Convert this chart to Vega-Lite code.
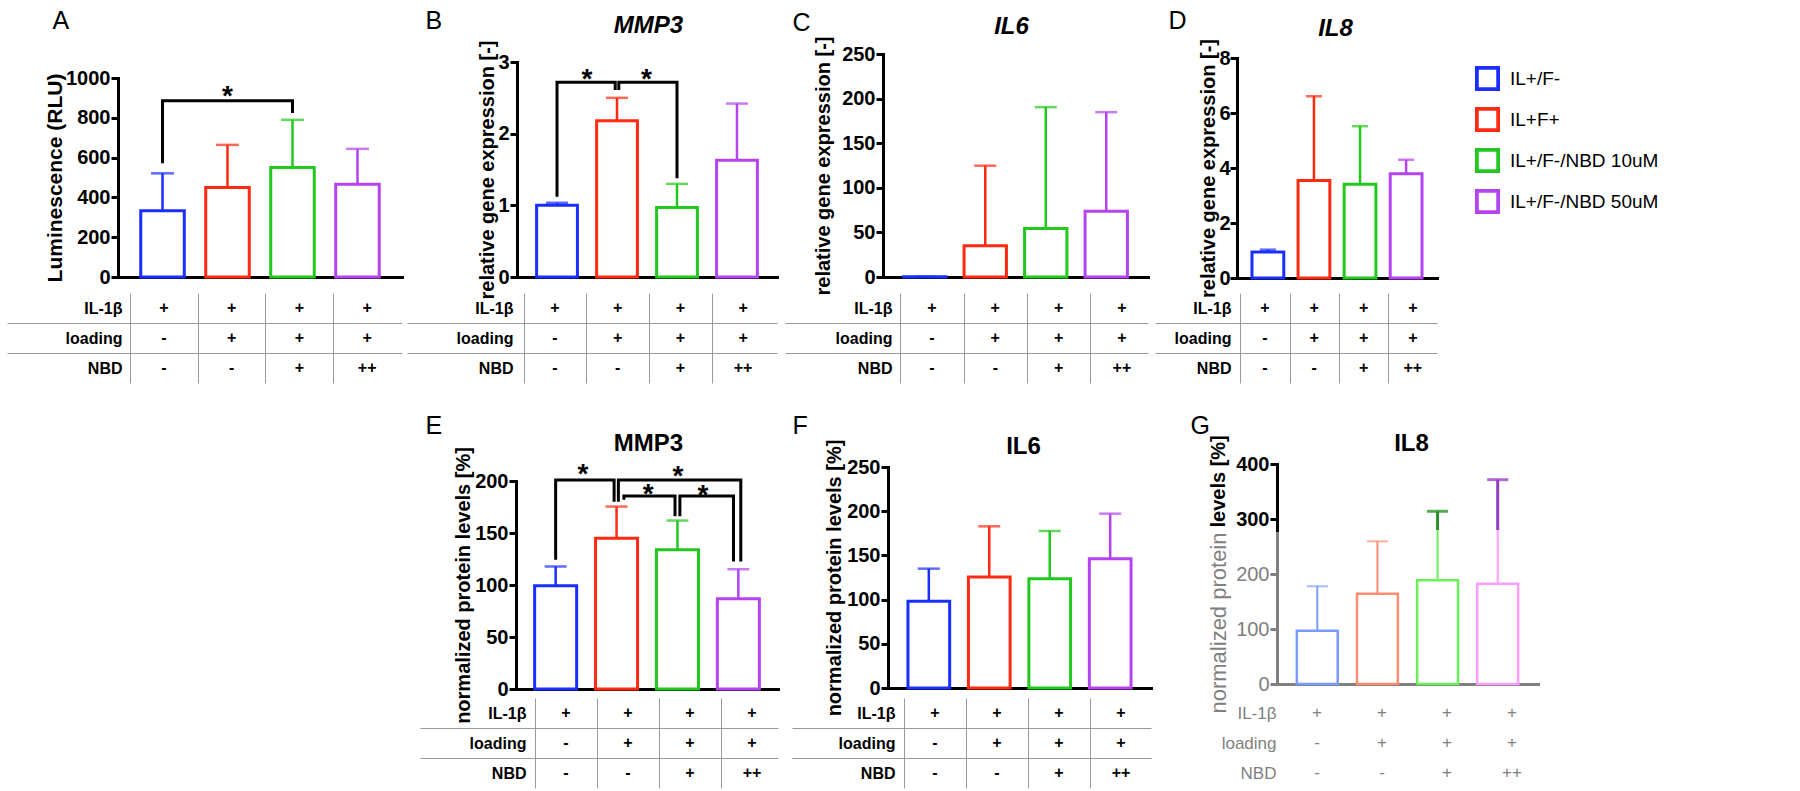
{
"$schema":"https://vega.github.io/schema/vega-lite/v6.json",
"width":1800,"height":791,"autosize":"none","padding":0,"background":"white",
"config":{"view":{"stroke":null},"font":"Liberation Sans",
 "axis":{"domainColor":"black","domainWidth":3,"domainCap":"square","tickColor":"black","tickWidth":3,"tickSize":7,"labelFontSize":20,"labelFontWeight":"bold","labelColor":"black","titleFontSize":20,"titleFontWeight":"bold","titleColor":"black","grid":false,"zindex":1}},
"datasets":{
 "bars":[
  {"p":"A","cond":"IL+/F-","v":333,"e":521},{"p":"A","cond":"IL+F+","v":450,"e":664},{"p":"A","cond":"IL+/F-/NBD 10uM","v":550,"e":790},{"p":"A","cond":"IL+/F-/NBD 50uM","v":466,"e":644},
  {"p":"B","cond":"IL+/F-","v":1.0,"e":1.036},{"p":"B","cond":"IL+F+","v":2.18,"e":2.5},{"p":"B","cond":"IL+/F-/NBD 10uM","v":0.97,"e":1.3},{"p":"B","cond":"IL+/F-/NBD 50uM","v":1.63,"e":2.42},
  {"p":"C","cond":"IL+/F-","v":0.2,"e":0.3},{"p":"C","cond":"IL+F+","v":34.9,"e":124.8},{"p":"C","cond":"IL+/F-/NBD 10uM","v":54.3,"e":190.4},{"p":"C","cond":"IL+/F-/NBD 50uM","v":73.8,"e":184.8},
  {"p":"D","cond":"IL+/F-","v":0.95,"e":1.03},{"p":"D","cond":"IL+F+","v":3.55,"e":6.61},{"p":"D","cond":"IL+/F-/NBD 10uM","v":3.41,"e":5.52},{"p":"D","cond":"IL+/F-/NBD 50uM","v":3.79,"e":4.3},
  {"p":"E","cond":"IL+/F-","v":99.2,"e":117.8},{"p":"E","cond":"IL+F+","v":145,"e":175.4},{"p":"E","cond":"IL+/F-/NBD 10uM","v":133.8,"e":162},{"p":"E","cond":"IL+/F-/NBD 50uM","v":86.7,"e":115.2},
  {"p":"F","cond":"IL+/F-","v":98,"e":135},{"p":"F","cond":"IL+F+","v":125.6,"e":182.9},{"p":"F","cond":"IL+/F-/NBD 10uM","v":123.7,"e":177.6},{"p":"F","cond":"IL+/F-/NBD 50uM","v":146.3,"e":197.2},
  {"p":"G","cond":"IL+/F-","v":97,"e":177.6},{"p":"G","cond":"IL+F+","v":164,"e":259.4},{"p":"G","cond":"IL+/F-/NBD 10uM","v":188.5,"e":314},{"p":"G","cond":"IL+/F-/NBD 50uM","v":182.4,"e":371.5}
 ],
 "table":[
  {"row":"IL-1β","cond":"IL+/F-","m":"+"},{"row":"IL-1β","cond":"IL+F+","m":"+"},{"row":"IL-1β","cond":"IL+/F-/NBD 10uM","m":"+"},{"row":"IL-1β","cond":"IL+/F-/NBD 50uM","m":"+"},
  {"row":"loading","cond":"IL+/F-","m":"-"},{"row":"loading","cond":"IL+F+","m":"+"},{"row":"loading","cond":"IL+/F-/NBD 10uM","m":"+"},{"row":"loading","cond":"IL+/F-/NBD 50uM","m":"+"},
  {"row":"NBD","cond":"IL+/F-","m":"-"},{"row":"NBD","cond":"IL+F+","m":"-"},{"row":"NBD","cond":"IL+/F-/NBD 10uM","m":"+"},{"row":"NBD","cond":"IL+/F-/NBD 50uM","m":"++"}
 ],
 "brk":[
  {"p":"A","b":1,"k":1,"pos":0,"y":571},{"p":"A","b":1,"k":2,"pos":0,"y":886},{"p":"A","b":1,"k":3,"pos":2,"y":886},{"p":"A","b":1,"k":4,"pos":2,"y":824},
  {"p":"B","b":1,"k":1,"pos":0,"y":1.12},{"p":"B","b":1,"k":2,"pos":0,"y":2.716},{"p":"B","b":1,"k":3,"pos":0.97,"y":2.716},{"p":"B","b":1,"k":4,"pos":0.97,"y":2.61},
  {"p":"B","b":2,"k":1,"pos":1.03,"y":2.61},{"p":"B","b":2,"k":2,"pos":1.03,"y":2.716},{"p":"B","b":2,"k":3,"pos":2,"y":2.716},{"p":"B","b":2,"k":4,"pos":2,"y":1.377},
  {"p":"E","b":1,"k":1,"pos":0,"y":124.2},{"p":"E","b":1,"k":2,"pos":0,"y":201},{"p":"E","b":1,"k":3,"pos":0.96,"y":201},{"p":"E","b":1,"k":4,"pos":0.96,"y":180},
  {"p":"E","b":2,"k":1,"pos":1.03,"y":180},{"p":"E","b":2,"k":2,"pos":1.03,"y":201},{"p":"E","b":2,"k":3,"pos":3.04,"y":201},{"p":"E","b":2,"k":4,"pos":3.04,"y":122.6},
  {"p":"E","b":3,"k":1,"pos":1.12,"y":182},{"p":"E","b":3,"k":2,"pos":1.12,"y":185.6},{"p":"E","b":3,"k":3,"pos":1.96,"y":185.6},{"p":"E","b":3,"k":4,"pos":1.96,"y":166},
  {"p":"E","b":4,"k":1,"pos":2.04,"y":166},{"p":"E","b":4,"k":2,"pos":2.04,"y":185.6},{"p":"E","b":4,"k":3,"pos":2.92,"y":185.6},{"p":"E","b":4,"k":4,"pos":2.92,"y":122.6}
 ],
 "stars":[
  {"p":"A","pos":1.0,"y":945},
  {"p":"B","pos":0.5,"y":2.865},{"p":"B","pos":1.49,"y":2.865},
  {"p":"E","pos":0.45,"y":213.8},{"p":"E","pos":2.01,"y":212},{"p":"E","pos":1.52,"y":194.6},{"p":"E","pos":2.42,"y":193}
 ],
 "gdark":[
  {"p":"G","cond":"IL+/F-/NBD 10uM","lo":280,"hi":314},{"p":"G","cond":"IL+/F-/NBD 50uM","lo":280,"hi":371.5}
 ]
},
"layer":[
 {"layer":[
  {"data":{"name":"bars"},"transform":[{"filter":"datum.p === 'A'"}],
   "encoding":{"x":{"field":"cond","type":"nominal","scale":{"domain":["IL+/F-","IL+F+","IL+/F-/NBD 10uM","IL+/F-/NBD 50uM"],"range":[118,402],"paddingInner":0.33,"paddingOuter":0.35},"axis":{"orient":"bottom","offset":-514,"ticks":false,"labels":false,"title":null}},
    "y":{"field":"v","type":"quantitative","scale":{"domain":[0,1000],"range":[277,78],"nice":false},"axis":{"orient":"left","offset":-118,"values":[0,200,400,600,800,1000],"format":"d","labelPadding":1,"title":"Luminescence (RLU)","titleFontSize":21,"titlePadding":0}}},
   "layer":[
    {"mark":{"type":"bar","filled":false,"strokeWidth":3},
     "encoding":{"stroke":{"field":"cond","type":"nominal","scale":{"domain":["IL+/F-","IL+F+","IL+/F-/NBD 10uM","IL+/F-/NBD 50uM"],"range":["#1a2eff","#ff2a12","#22c81e","#b444f0"]},
       "legend":{"orient":"none","legendX":1475,"legendY":66,"title":null,"symbolType":"M-1,-1H1V1H-1Z M-0.7,-0.7V0.7H0.7V-0.7Z","symbolSize":625,"symbolStrokeWidth":0,"labelFontSize":19,"labelFontWeight":"normal","labelColor":"black","labelOffset":10,"rowPadding":16,"padding":0,"labelLimit":400}}}},
    {"mark":{"type":"rule","strokeWidth":2.5},
     "encoding":{"y2":{"field":"e"},"color":{"field":"cond","type":"nominal","scale":{"domain":["IL+/F-","IL+F+","IL+/F-/NBD 10uM","IL+/F-/NBD 50uM"],"range":["#1a2eff","#ff2a12","#22c81e","#b444f0"]},"legend":null}}},
    {"mark":{"type":"tick","thickness":2.5,"size":23},
     "encoding":{"y":{"field":"e","type":"quantitative"},"fill":{"field":"cond","type":"nominal","scale":{"domain":["IL+/F-","IL+F+","IL+/F-/NBD 10uM","IL+/F-/NBD 50uM"],"range":["#1a2eff","#ff2a12","#22c81e","#b444f0"]},"legend":null}}}
   ]},
  {"data":{"name":"table"},
   "mark":{"type":"text","fontSize":16,"fontWeight":"bold","color":"black","baseline":"middle"},
   "encoding":{
    "x":{"field":"cond","type":"nominal","scale":{"domain":["IL+/F-","IL+F+","IL+/F-/NBD 10uM","IL+/F-/NBD 50uM"],"range":[130,401],"paddingInner":0,"paddingOuter":0},
     "axis":{"orient":"bottom","offset":-408,"domain":false,"labels":false,"ticks":true,"tickSize":-90,"tickColor":"#9a9a9a","tickWidth":1,"tickOffset":-33.9,"title":"A","titleX":52,"titleY":-355,"titleAlign":"left","titleBaseline":"alphabetic","titleAngle":0,"titleFontSize":25,"titleFontWeight":"normal"}},
    "y":{"field":"row","type":"nominal","scale":{"domain":["IL-1β","loading","NBD"],"range":[293,383],"paddingInner":0,"paddingOuter":0},
     "axis":{"orient":"left","offset":-402,"domain":false,"ticks":true,"tickSize":395,"tickWidth":1,"tickOffset":15,"tickColor":{"condition":{"test":"datum.value === 'NBD'","value":"transparent"},"value":"#9a9a9a"},"labelOffset":-15,"labelPadding":-115,"labelFontSize":16,"title":null}},
    "text":{"field":"m"}}},
  {"layer":[
   {"data":{"name":"brk"},"transform":[{"filter":"datum.p === 'A'"}],
    "mark":{"type":"line","color":"black","strokeWidth":3,"strokeJoin":"miter"},
    "encoding":{"x":{"field":"pos","type":"quantitative","scale":{"domain":[-0.685,3.685],"range":[118,402],"nice":false,"zero":false},"axis":null},
     "y":{"field":"y","type":"quantitative","scale":{"domain":[0,1000],"range":[277,78],"nice":false,"zero":false},"axis":null},
     "detail":{"field":"b","type":"nominal"},"order":{"field":"k","type":"quantitative"}}},
   {"data":{"name":"stars"},"transform":[{"filter":"datum.p === 'A'"}],
    "mark":{"type":"text","text":"*","fontSize":28,"fontWeight":"bold","color":"black","baseline":"alphabetic","dy":16},
    "encoding":{"x":{"field":"pos","type":"quantitative","axis":null},"y":{"field":"y","type":"quantitative","axis":null}}}
  ]}
 ],"resolve":{"scale":{"x":"independent","y":"independent"}}},

 {"layer":[
  {"data":{"name":"bars"},"transform":[{"filter":"datum.p === 'B'"}],
   "encoding":{"x":{"field":"cond","type":"nominal","scale":{"domain":["IL+/F-","IL+F+","IL+/F-/NBD 10uM","IL+/F-/NBD 50uM"],"range":[517,777],"paddingInner":0.32,"paddingOuter":0.327},"axis":{"orient":"bottom","offset":-514,"ticks":false,"labels":false,"title":"MMP3","titleX":648,"titleY":-245,"titleAlign":"center","titleBaseline":"alphabetic","titleAngle":0,"titleFontSize":24,"titleFontStyle":"italic"}},
    "y":{"field":"v","type":"quantitative","scale":{"domain":[0,3],"range":[277,62],"nice":false},"axis":{"orient":"left","offset":-517,"values":[0,1,2,3],"format":"d","labelPadding":1,"title":"relative gene expression [-]","titlePadding":0}}},
   "layer":[
    {"mark":{"type":"bar","filled":false,"strokeWidth":3},
     "encoding":{"stroke":{"field":"cond","type":"nominal","scale":{"domain":["IL+/F-","IL+F+","IL+/F-/NBD 10uM","IL+/F-/NBD 50uM"],"range":["#1a2eff","#ff2a12","#22c81e","#b444f0"]},"legend":null}}},
    {"mark":{"type":"rule","strokeWidth":2.5},
     "encoding":{"y2":{"field":"e"},"color":{"field":"cond","type":"nominal","scale":{"domain":["IL+/F-","IL+F+","IL+/F-/NBD 10uM","IL+/F-/NBD 50uM"],"range":["#1a2eff","#ff2a12","#22c81e","#b444f0"]},"legend":null}}},
    {"mark":{"type":"tick","thickness":2.5,"size":22},
     "encoding":{"y":{"field":"e","type":"quantitative"},"fill":{"field":"cond","type":"nominal","scale":{"domain":["IL+/F-","IL+F+","IL+/F-/NBD 10uM","IL+/F-/NBD 50uM"],"range":["#1a2eff","#ff2a12","#22c81e","#b444f0"]},"legend":null}}}
   ]},
  {"data":{"name":"table"},
   "mark":{"type":"text","fontSize":16,"fontWeight":"bold","color":"black","baseline":"middle"},
   "encoding":{
    "x":{"field":"cond","type":"nominal","scale":{"domain":["IL+/F-","IL+F+","IL+/F-/NBD 10uM","IL+/F-/NBD 50uM"],"range":[523.6,774.4],"paddingInner":0,"paddingOuter":0},
     "axis":{"orient":"bottom","offset":-408,"domain":false,"labels":false,"ticks":true,"tickSize":-90,"tickColor":"#9a9a9a","tickWidth":1,"tickOffset":-31.35,"title":"B","titleX":425,"titleY":-355,"titleAlign":"left","titleBaseline":"alphabetic","titleAngle":0,"titleFontSize":25,"titleFontWeight":"normal"}},
    "y":{"field":"row","type":"nominal","scale":{"domain":["IL-1β","loading","NBD"],"range":[293,383],"paddingInner":0,"paddingOuter":0},
     "axis":{"orient":"left","offset":-777,"domain":false,"ticks":true,"tickSize":370,"tickWidth":1,"tickOffset":15,"tickColor":{"condition":{"test":"datum.value === 'NBD'","value":"transparent"},"value":"#9a9a9a"},"labelOffset":-15,"labelPadding":-106,"labelFontSize":16,"title":null}},
    "text":{"field":"m"}}},
  {"layer":[
   {"data":{"name":"brk"},"transform":[{"filter":"datum.p === 'B'"}],
    "mark":{"type":"line","color":"black","strokeWidth":3,"strokeJoin":"miter"},
    "encoding":{"x":{"field":"pos","type":"quantitative","scale":{"domain":[-0.667,3.667],"range":[517,777],"nice":false,"zero":false},"axis":null},
     "y":{"field":"y","type":"quantitative","scale":{"domain":[0,3],"range":[277,62],"nice":false,"zero":false},"axis":null},
     "detail":{"field":"b","type":"nominal"},"order":{"field":"k","type":"quantitative"}}},
   {"data":{"name":"stars"},"transform":[{"filter":"datum.p === 'B'"}],
    "mark":{"type":"text","text":"*","fontSize":28,"fontWeight":"bold","color":"black","baseline":"alphabetic","dy":16},
    "encoding":{"x":{"field":"pos","type":"quantitative","axis":null},"y":{"field":"y","type":"quantitative","axis":null}}}
  ]}
 ],"resolve":{"scale":{"x":"independent","y":"independent"}}},

 {"layer":[
  {"data":{"name":"bars"},"transform":[{"filter":"datum.p === 'C'"}],
   "encoding":{"x":{"field":"cond","type":"nominal","scale":{"domain":["IL+/F-","IL+F+","IL+/F-/NBD 10uM","IL+/F-/NBD 50uM"],"range":[883,1148],"paddingInner":0.3,"paddingOuter":0.34},"axis":{"orient":"bottom","offset":-514,"ticks":false,"labels":false,"title":"IL6","titleX":1011,"titleY":-244,"titleAlign":"center","titleBaseline":"alphabetic","titleAngle":0,"titleFontSize":24,"titleFontStyle":"italic"}},
    "y":{"field":"v","type":"quantitative","scale":{"domain":[0,250],"range":[277,54],"nice":false},"axis":{"orient":"left","offset":-883,"values":[0,50,100,150,200,250],"format":"d","labelPadding":1,"title":"relative gene expression [-]","titlePadding":8}}},
   "layer":[
    {"mark":{"type":"bar","filled":false,"strokeWidth":3},
     "encoding":{"stroke":{"field":"cond","type":"nominal","scale":{"domain":["IL+/F-","IL+F+","IL+/F-/NBD 10uM","IL+/F-/NBD 50uM"],"range":["#1a2eff","#ff2a12","#22c81e","#b444f0"]},"legend":null}}},
    {"mark":{"type":"rule","strokeWidth":2.5},
     "encoding":{"y2":{"field":"e"},"color":{"field":"cond","type":"nominal","scale":{"domain":["IL+/F-","IL+F+","IL+/F-/NBD 10uM","IL+/F-/NBD 50uM"],"range":["#1a2eff","#ff2a12","#22c81e","#b444f0"]},"legend":null}}},
    {"mark":{"type":"tick","thickness":2.5,"size":22},
     "encoding":{"y":{"field":"e","type":"quantitative"},"fill":{"field":"cond","type":"nominal","scale":{"domain":["IL+/F-","IL+F+","IL+/F-/NBD 10uM","IL+/F-/NBD 50uM"],"range":["#1a2eff","#ff2a12","#22c81e","#b444f0"]},"legend":null}}}
   ]},
  {"data":{"name":"table"},
   "mark":{"type":"text","fontSize":16,"fontWeight":"bold","color":"black","baseline":"middle"},
   "encoding":{
    "x":{"field":"cond","type":"nominal","scale":{"domain":["IL+/F-","IL+F+","IL+/F-/NBD 10uM","IL+/F-/NBD 50uM"],"range":[900.3,1153.6],"paddingInner":0,"paddingOuter":0},
     "axis":{"orient":"bottom","offset":-408,"domain":false,"labels":false,"ticks":true,"tickSize":-90,"tickColor":"#9a9a9a","tickWidth":1,"tickOffset":-31.7,"title":"C","titleX":792,"titleY":-353,"titleAlign":"left","titleBaseline":"alphabetic","titleAngle":0,"titleFontSize":25,"titleFontWeight":"normal"}},
    "y":{"field":"row","type":"nominal","scale":{"domain":["IL-1β","loading","NBD"],"range":[293,383],"paddingInner":0,"paddingOuter":0},
     "axis":{"orient":"left","offset":-1148,"domain":false,"ticks":true,"tickSize":363,"tickWidth":1,"tickOffset":15,"tickColor":{"condition":{"test":"datum.value === 'NBD'","value":"transparent"},"value":"#9a9a9a"},"labelOffset":-15,"labelPadding":-107,"labelFontSize":16,"title":null}},
    "text":{"field":"m"}}}
 ],"resolve":{"scale":{"x":"independent","y":"independent"}}},

 {"layer":[
  {"data":{"name":"bars"},"transform":[{"filter":"datum.p === 'D'"}],
   "encoding":{"x":{"field":"cond","type":"nominal","scale":{"domain":["IL+/F-","IL+F+","IL+/F-/NBD 10uM","IL+/F-/NBD 50uM"],"range":[1237,1437],"paddingInner":0.31,"paddingOuter":0.325},"axis":{"orient":"bottom","offset":-513,"ticks":false,"labels":false,"title":"IL8","titleX":1335,"titleY":-243,"titleAlign":"center","titleBaseline":"alphabetic","titleAngle":0,"titleFontSize":24,"titleFontStyle":"italic"}},
    "y":{"field":"v","type":"quantitative","scale":{"domain":[0,8],"range":[278,58],"nice":false},"axis":{"orient":"left","offset":-1237,"values":[0,2,4,6,8],"format":"d","labelPadding":0,"title":"relative gene expression [-]","titlePadding":0}}},
   "layer":[
    {"mark":{"type":"bar","filled":false,"strokeWidth":3},
     "encoding":{"stroke":{"field":"cond","type":"nominal","scale":{"domain":["IL+/F-","IL+F+","IL+/F-/NBD 10uM","IL+/F-/NBD 50uM"],"range":["#1a2eff","#ff2a12","#22c81e","#b444f0"]},"legend":null}}},
    {"mark":{"type":"rule","strokeWidth":2.5},
     "encoding":{"y2":{"field":"e"},"color":{"field":"cond","type":"nominal","scale":{"domain":["IL+/F-","IL+F+","IL+/F-/NBD 10uM","IL+/F-/NBD 50uM"],"range":["#1a2eff","#ff2a12","#22c81e","#b444f0"]},"legend":null}}},
    {"mark":{"type":"tick","thickness":2.5,"size":16},
     "encoding":{"y":{"field":"e","type":"quantitative"},"fill":{"field":"cond","type":"nominal","scale":{"domain":["IL+/F-","IL+F+","IL+/F-/NBD 10uM","IL+/F-/NBD 50uM"],"range":["#1a2eff","#ff2a12","#22c81e","#b444f0"]},"legend":null}}}
   ]},
  {"data":{"name":"table"},
   "mark":{"type":"text","fontSize":16,"fontWeight":"bold","color":"black","baseline":"middle"},
   "encoding":{
    "x":{"field":"cond","type":"nominal","scale":{"domain":["IL+/F-","IL+F+","IL+/F-/NBD 10uM","IL+/F-/NBD 50uM"],"range":[1240.3,1437.5],"paddingInner":0,"paddingOuter":0},
     "axis":{"orient":"bottom","offset":-408,"domain":false,"labels":false,"ticks":true,"tickSize":-90,"tickColor":"#9a9a9a","tickWidth":1,"tickOffset":-24.65,"title":"D","titleX":1168,"titleY":-355,"titleAlign":"left","titleBaseline":"alphabetic","titleAngle":0,"titleFontSize":25,"titleFontWeight":"normal"}},
    "y":{"field":"row","type":"nominal","scale":{"domain":["IL-1β","loading","NBD"],"range":[293,383],"paddingInner":0,"paddingOuter":0},
     "axis":{"orient":"left","offset":-1437,"domain":false,"ticks":true,"tickSize":282,"tickWidth":1,"tickOffset":15,"tickColor":{"condition":{"test":"datum.value === 'NBD'","value":"transparent"},"value":"#9a9a9a"},"labelOffset":-15,"labelPadding":-76,"labelFontSize":16,"title":null}},
    "text":{"field":"m"}}}
 ],"resolve":{"scale":{"x":"independent","y":"independent"}}},

 {"layer":[
  {"data":{"name":"bars"},"transform":[{"filter":"datum.p === 'E'"}],
   "encoding":{"x":{"field":"cond","type":"nominal","scale":{"domain":["IL+/F-","IL+F+","IL+/F-/NBD 10uM","IL+/F-/NBD 50uM"],"range":[516,778],"paddingInner":0.31,"paddingOuter":0.306},"axis":{"orient":"bottom","offset":-102,"ticks":false,"labels":false,"title":"MMP3","titleX":648,"titleY":-239,"titleAlign":"center","titleBaseline":"alphabetic","titleAngle":0,"titleFontSize":24}},
    "y":{"field":"v","type":"quantitative","scale":{"domain":[0,200],"range":[689,481],"nice":false},"axis":{"orient":"left","offset":-516,"values":[0,50,100,150,200],"format":"d","labelPadding":1,"title":"normalized protein levels [%]","titlePadding":1}}},
   "layer":[
    {"mark":{"type":"bar","filled":false,"strokeWidth":3},
     "encoding":{"stroke":{"field":"cond","type":"nominal","scale":{"domain":["IL+/F-","IL+F+","IL+/F-/NBD 10uM","IL+/F-/NBD 50uM"],"range":["#1a2eff","#ff2a12","#22c81e","#b444f0"]},"legend":null}}},
    {"mark":{"type":"rule","strokeWidth":2.5},
     "encoding":{"y2":{"field":"e"},"color":{"field":"cond","type":"nominal","scale":{"domain":["IL+/F-","IL+F+","IL+/F-/NBD 10uM","IL+/F-/NBD 50uM"],"range":["#1a2eff","#ff2a12","#22c81e","#b444f0"]},"legend":null}}},
    {"mark":{"type":"tick","thickness":2.5,"size":22},
     "encoding":{"y":{"field":"e","type":"quantitative"},"fill":{"field":"cond","type":"nominal","scale":{"domain":["IL+/F-","IL+F+","IL+/F-/NBD 10uM","IL+/F-/NBD 50uM"],"range":["#1a2eff","#ff2a12","#22c81e","#b444f0"]},"legend":null}}}
   ]},
  {"data":{"name":"table"},
   "mark":{"type":"text","fontSize":16,"fontWeight":"bold","color":"black","baseline":"middle"},
   "encoding":{
    "x":{"field":"cond","type":"nominal","scale":{"domain":["IL+/F-","IL+F+","IL+/F-/NBD 10uM","IL+/F-/NBD 50uM"],"range":[535,783],"paddingInner":0,"paddingOuter":0},
     "axis":{"orient":"bottom","offset":-3,"domain":false,"labels":false,"ticks":true,"tickSize":-90,"tickColor":"#9a9a9a","tickWidth":1,"tickOffset":-31,"title":"E","titleX":425,"titleY":-355,"titleAlign":"left","titleBaseline":"alphabetic","titleAngle":0,"titleFontSize":25,"titleFontWeight":"normal"}},
    "y":{"field":"row","type":"nominal","scale":{"domain":["IL-1β","loading","NBD"],"range":[698,788],"paddingInner":0,"paddingOuter":0},
     "axis":{"orient":"left","offset":-778,"domain":false,"ticks":true,"tickSize":358,"tickWidth":1,"tickOffset":15,"tickColor":{"condition":{"test":"datum.value === 'NBD'","value":"transparent"},"value":"#9a9a9a"},"labelOffset":-15,"labelPadding":-106,"labelFontSize":16,"title":null}},
    "text":{"field":"m"}}},
  {"layer":[
   {"data":{"name":"brk"},"transform":[{"filter":"datum.p === 'E'"}],
    "mark":{"type":"line","color":"black","strokeWidth":3,"strokeJoin":"miter"},
    "encoding":{"x":{"field":"pos","type":"quantitative","scale":{"domain":[-0.651,3.651],"range":[516,778],"nice":false,"zero":false},"axis":null},
     "y":{"field":"y","type":"quantitative","scale":{"domain":[0,200],"range":[689,481],"nice":false,"zero":false},"axis":null},
     "detail":{"field":"b","type":"nominal"},"order":{"field":"k","type":"quantitative"}}},
   {"data":{"name":"stars"},"transform":[{"filter":"datum.p === 'E'"}],
    "mark":{"type":"text","text":"*","fontSize":28,"fontWeight":"bold","color":"black","baseline":"alphabetic","dy":16},
    "encoding":{"x":{"field":"pos","type":"quantitative","axis":null},"y":{"field":"y","type":"quantitative","axis":null}}}
  ]}
 ],"resolve":{"scale":{"x":"independent","y":"independent"}}},

 {"layer":[
  {"data":{"name":"bars"},"transform":[{"filter":"datum.p === 'F'"}],
   "encoding":{"x":{"field":"cond","type":"nominal","scale":{"domain":["IL+/F-","IL+F+","IL+/F-/NBD 10uM","IL+/F-/NBD 50uM"],"range":[888,1151],"paddingInner":0.31,"paddingOuter":0.33},"axis":{"orient":"bottom","offset":-103,"ticks":false,"labels":false,"title":"IL6","titleX":1023,"titleY":-235,"titleAlign":"center","titleBaseline":"alphabetic","titleAngle":0,"titleFontSize":24}},
    "y":{"field":"v","type":"quantitative","scale":{"domain":[0,250],"range":[688,467],"nice":false},"axis":{"orient":"left","offset":-888,"values":[0,50,100,150,200,250],"format":"d","labelPadding":1,"title":"normalized protein levels [%]","titlePadding":2}}},
   "layer":[
    {"mark":{"type":"bar","filled":false,"strokeWidth":3},
     "encoding":{"stroke":{"field":"cond","type":"nominal","scale":{"domain":["IL+/F-","IL+F+","IL+/F-/NBD 10uM","IL+/F-/NBD 50uM"],"range":["#1a2eff","#ff2a12","#22c81e","#b444f0"]},"legend":null}}},
    {"mark":{"type":"rule","strokeWidth":2.5},
     "encoding":{"y2":{"field":"e"},"color":{"field":"cond","type":"nominal","scale":{"domain":["IL+/F-","IL+F+","IL+/F-/NBD 10uM","IL+/F-/NBD 50uM"],"range":["#1a2eff","#ff2a12","#22c81e","#b444f0"]},"legend":null}}},
    {"mark":{"type":"tick","thickness":2.5,"size":22},
     "encoding":{"y":{"field":"e","type":"quantitative"},"fill":{"field":"cond","type":"nominal","scale":{"domain":["IL+/F-","IL+F+","IL+/F-/NBD 10uM","IL+/F-/NBD 50uM"],"range":["#1a2eff","#ff2a12","#22c81e","#b444f0"]},"legend":null}}}
   ]},
  {"data":{"name":"table"},
   "mark":{"type":"text","fontSize":16,"fontWeight":"bold","color":"black","baseline":"middle"},
   "encoding":{
    "x":{"field":"cond","type":"nominal","scale":{"domain":["IL+/F-","IL+F+","IL+/F-/NBD 10uM","IL+/F-/NBD 50uM"],"range":[904,1152],"paddingInner":0,"paddingOuter":0},
     "axis":{"orient":"bottom","offset":-3,"domain":false,"labels":false,"ticks":true,"tickSize":-90,"tickColor":"#9a9a9a","tickWidth":1,"tickOffset":-31,"title":"F","titleX":792,"titleY":-355,"titleAlign":"left","titleBaseline":"alphabetic","titleAngle":0,"titleFontSize":25,"titleFontWeight":"normal"}},
    "y":{"field":"row","type":"nominal","scale":{"domain":["IL-1β","loading","NBD"],"range":[698,788],"paddingInner":0,"paddingOuter":0},
     "axis":{"orient":"left","offset":-1151,"domain":false,"ticks":true,"tickSize":359,"tickWidth":1,"tickOffset":15,"tickColor":{"condition":{"test":"datum.value === 'NBD'","value":"transparent"},"value":"#9a9a9a"},"labelOffset":-15,"labelPadding":-103,"labelFontSize":16,"title":null}},
    "text":{"field":"m"}}}
 ],"resolve":{"scale":{"x":"independent","y":"independent"}}},

 {"layer":[
  {"data":{"name":"bars"},"transform":[{"filter":"datum.p === 'G'"}],
   "encoding":{"x":{"field":"cond","type":"nominal","scale":{"domain":["IL+/F-","IL+F+","IL+/F-/NBD 10uM","IL+/F-/NBD 50uM"],"range":[1277,1538],"paddingInner":0.32,"paddingOuter":0.33},"axis":{"orient":"bottom","offset":-107,"ticks":false,"labels":false,"domainColor":"#808080","title":"IL8","titleX":1411,"titleY":-234,"titleAlign":"center","titleBaseline":"alphabetic","titleAngle":0,"titleFontSize":24}},
    "y":{"field":"v","type":"quantitative","scale":{"domain":[0,400],"range":[684,464],"nice":false},"axis":{"orient":"left","offset":-1277,"values":[0,100,200,300,400],"format":"d","labelPadding":1,"domainColor":"#808080",
        "tickColor":{"condition":{"test":"datum.value >= 300","value":"black"},"value":"#808080"},
        "labelColor":{"condition":{"test":"datum.value >= 300","value":"black"},"value":"#808080"},
        "labelFontWeight":{"condition":{"test":"datum.value >= 300","value":"bold"},"value":"normal"},
        "title":"normalized protein","titleColor":"#808080","titleFontWeight":"normal","titleFontSize":22,"titleAngle":-90,"titleX":-59,"titleY":713,"titleAlign":"left","titleBaseline":"middle"}}},
   "layer":[
    {"mark":{"type":"bar","filled":false,"strokeWidth":2.5},
     "encoding":{"stroke":{"field":"cond","type":"nominal","scale":{"domain":["IL+/F-","IL+F+","IL+/F-/NBD 10uM","IL+/F-/NBD 50uM"],"range":["#7d9bff","#ff8c70","#6aee5a","#ff9cff"]},"legend":null}}},
    {"mark":{"type":"rule","strokeWidth":2},
     "encoding":{"y2":{"field":"e"},"color":{"field":"cond","type":"nominal","scale":{"domain":["IL+/F-","IL+F+","IL+/F-/NBD 10uM","IL+/F-/NBD 50uM"],"range":["#7d9bff","#ff8c70","#6aee5a","#ff9cff"]},"legend":null}}},
    {"mark":{"type":"tick","thickness":2,"size":21},
     "encoding":{"y":{"field":"e","type":"quantitative"},"fill":{"field":"cond","type":"nominal","scale":{"domain":["IL+/F-","IL+F+","IL+/F-/NBD 10uM","IL+/F-/NBD 50uM"],"range":["#7d9bff","#ff8c70","#6aee5a","#ff9cff"]},"legend":null}}},
    {"data":{"name":"gdark"},"mark":{"type":"rule","strokeWidth":3},
     "encoding":{"y":{"field":"lo","type":"quantitative"},"y2":{"field":"hi"},"color":{"condition":{"test":"datum.cond === 'IL+/F-/NBD 10uM'","value":"#2e8b2e"},"value":"#9040c0"}}},
    {"data":{"name":"gdark"},"mark":{"type":"tick","thickness":3,"size":21},
     "encoding":{"y":{"field":"hi","type":"quantitative"},"color":{"condition":{"test":"datum.cond === 'IL+/F-/NBD 10uM'","value":"#2e8b2e"},"value":"#9040c0"}}}
   ]},
  {"data":{"name":"gdark"},"mark":{"type":"rule","opacity":0},
   "encoding":{"y":{"field":"hi","type":"quantitative","scale":{"domain":[280,400],"range":[530,464],"nice":false,"zero":false},
     "axis":{"orient":"left","offset":-1277,"domainColor":"black","ticks":false,"labels":false,"title":null}}}},
  {"data":{"name":"table"},
   "mark":{"type":"text","fontSize":17,"fontWeight":"normal","color":"#808080","baseline":"middle"},
   "encoding":{
    "x":{"field":"cond","type":"nominal","scale":{"domain":["IL+/F-","IL+F+","IL+/F-/NBD 10uM","IL+/F-/NBD 50uM"],"range":[1284.5,1544.5],"paddingInner":0,"paddingOuter":0},
     "axis":{"orient":"bottom","offset":-3,"domain":false,"labels":false,"ticks":false,"title":"G","titleX":1190,"titleY":-355,"titleAlign":"left","titleBaseline":"alphabetic","titleAngle":0,"titleFontSize":25,"titleFontWeight":"normal"}},
    "y":{"field":"row","type":"nominal","scale":{"domain":["IL-1β","loading","NBD"],"range":[698,788],"paddingInner":0,"paddingOuter":0},
     "axis":{"orient":"left","offset":-1277,"domain":false,"ticks":false,"tickSize":0,"labelPadding":1,"labelFontSize":17,"labelFontWeight":"normal","labelColor":"#808080",
      "title":"levels [%]","titleX":-59,"titleY":527,"titleAngle":-90,"titleAlign":"left","titleBaseline":"middle","titleFontSize":20}},
    "text":{"field":"m"}}}
 ],"resolve":{"scale":{"x":"independent","y":"independent"}}}
],
"resolve":{"scale":{"x":"independent","y":"independent","stroke":"independent","color":"independent","fill":"independent"}}
}
